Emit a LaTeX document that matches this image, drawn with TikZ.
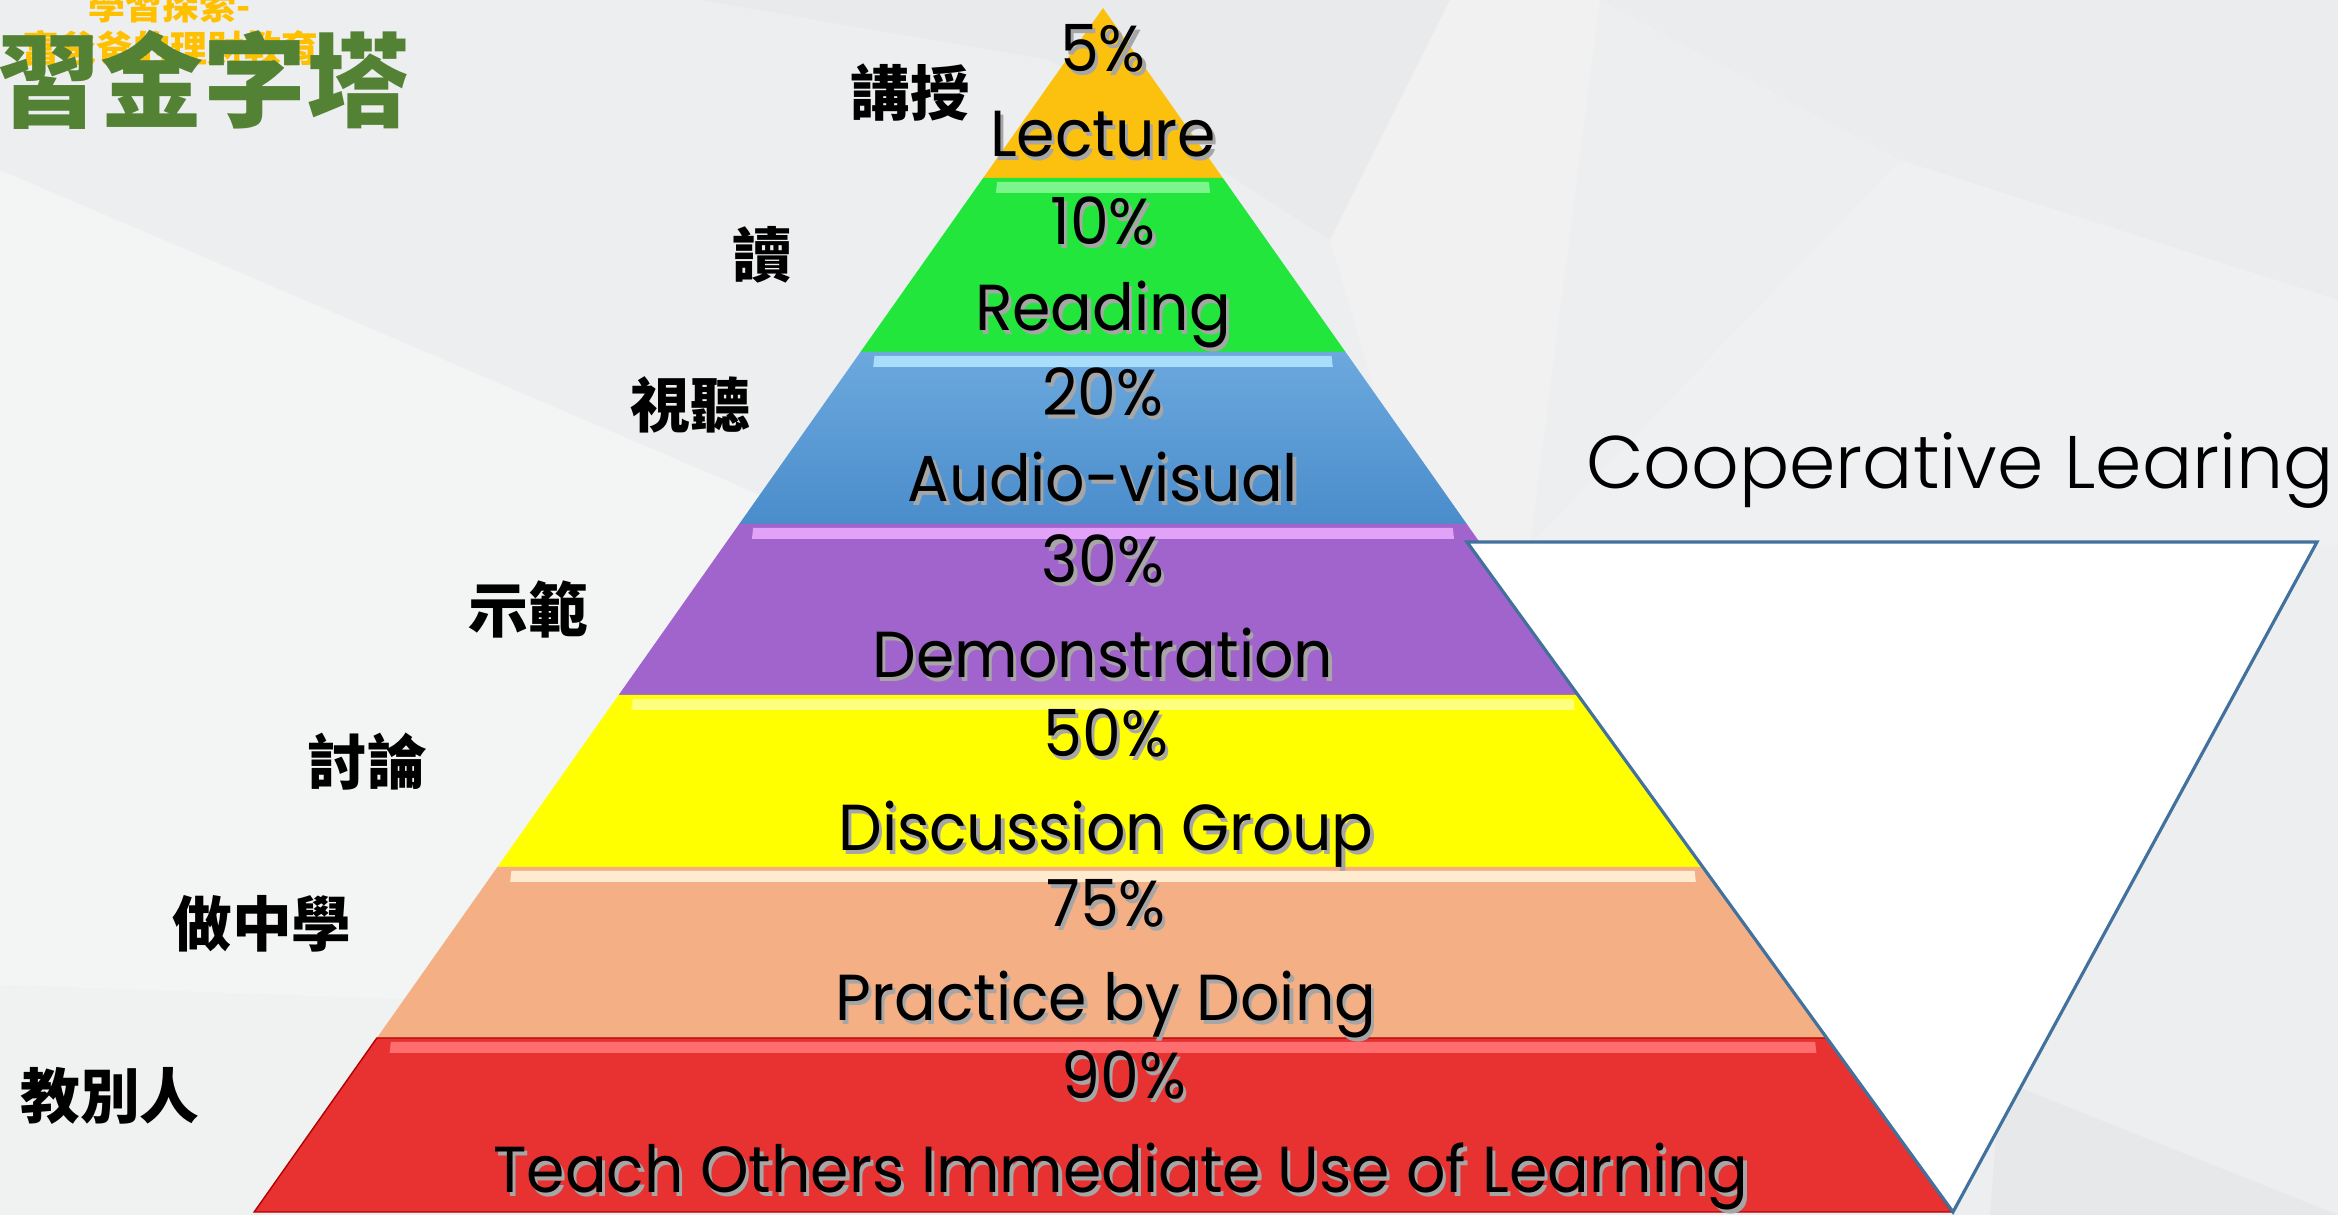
\documentclass[tikz,border=0pt]{standalone}
\usepackage{fontspec}
\setmainfont{Poppins}[FakeStretch=0.95]
\newfontfamily\cjk{Noto Sans CJK TC}
\newfontfamily\coopfont{Poppins Light}
\usetikzlibrary{calc}
\definecolor{bgbase}{HTML}{EDEEEF}
\definecolor{bglight}{HTML}{F3F4F4}
\definecolor{bgdark}{HTML}{E7E8E9}
\definecolor{titlegreen}{HTML}{548235}
\definecolor{titleyellow}{HTML}{FFC000}
\definecolor{cooplinecol}{HTML}{41719C}
\definecolor{lecturecol}{HTML}{FCC10E}
\definecolor{readingcol}{HTML}{22E63C}
\definecolor{audiotop}{HTML}{6CA8DE}
\definecolor{audiobot}{HTML}{4A8DCB}
\definecolor{democol}{HTML}{A064CC}
\definecolor{discol}{HTML}{FFFF00}
\definecolor{practicecol}{HTML}{F4B084}
\definecolor{teachcol}{HTML}{E83131}
\definecolor{readingband}{HTML}{7CF58C}
\definecolor{audioband}{HTML}{A8DEFA}
\definecolor{demoband}{HTML}{E2A2F8}
\definecolor{disband}{HTML}{FFFF80}
\definecolor{practiceband}{HTML}{FFEBCF}
\definecolor{teachband}{HTML}{FF6E6E}
\newcommand\shd[1]{\rlap{\hspace{0.9pt}\raisebox{-0.9pt}{\textcolor{black!35}{#1}}}#1}
\tikzset{
    layertxt/.style = {anchor=base,
                    inner sep=0pt,
                    text=black,
                    font=\fontsize{18.5}{20}\selectfont},
    side/.style =   {anchor=center,
                    inner sep=0pt,
                    text=black,
                    font=\cjk\bfseries\fontsize{17}{18}\selectfont},
    lecturelayer/.style  = {fill=lecturecol},
    readinglayer/.style  = {fill=readingcol},
    audiolayer/.style    = {top color=audiotop, bottom color=audiobot},
    demolayer/.style     = {fill=democol},
    dislayer/.style      = {fill=discol},
    practicelayer/.style = {fill=practicecol},
    teachlayer/.style    = {fill=teachcol, draw=red!70!black, line width=0.4pt},
    coopbox/.style = {fill=white,
                    draw=cooplinecol,
                    line width=0.9pt,
                    line join=miter}
}

\begin{document}
\begin{tikzpicture}[x=0.1mm, y=-0.1mm]
    \useasboundingbox (0,0) rectangle (2338,1215);
    % background facets
    \fill[bgbase] (0,0) rectangle (2338,1215);
    \fill[bglight] (0,170) -- (760,495) -- (420,1000) -- (0,985) -- cycle;
    \fill[bglight!50!bgbase] (0,985) -- (420,1000) -- (250,1215) -- (0,1215) -- cycle;
    \fill[bgdark!60!bgbase] (700,0) -- (1450,0) -- (1330,240) -- (1050,60) -- cycle;
    \fill[bglight!60!bgbase] (1330,240) -- (1450,0) -- (1600,0) -- (1530,545) -- (1420,545) -- cycle;
    \fill[bgdark!40!bgbase] (1600,0) -- (2338,0) -- (2338,300) -- (1900,160) -- cycle;
    \fill[bglight!40!bgbase] (1900,160) -- (2338,300) -- (2338,545) -- (1530,545) -- cycle;
    \fill[bgdark] (2000,1080) -- (2338,1215) -- (1990,1215) -- cycle;

    % pyramid layers
    \foreach \ya/\yb/\lay in {8/178/lecturelayer, 178/352/readinglayer, 352/524/audiolayer,
        524/695/demolayer, 695/867/dislayer, 867/1038/practicelayer, 1038/1212/teachlayer}
        \path[\lay] ({1103-0.705*(\ya-8)},\ya) -- ({1103+0.705*(\ya-8)},\ya)
            -- ({1103+0.705*(\yb-8)},\yb) -- ({1103-0.705*(\yb-8)},\yb) -- cycle;
    % top highlights
    \foreach \ya/\band in {178/readingband, 352/audioband, 524/demoband,
        695/disband, 867/practiceband, 1038/teachband}
        \fill[\band] ({1103-0.705*(\ya-8)+14},\ya+4) -- ({1103+0.705*(\ya-8)-14},\ya+4)
            -- ({1103+0.705*(\ya+8)-24},\ya+15) -- ({1103-0.705*(\ya+8)+24},\ya+15) -- cycle;

    % cooperative learning
    \coordinate (c1) at (1467,542);
    \coordinate (c2) at (2317,542);
    \coordinate (c3) at (1953,1212);
    \draw[coopbox] (c1) -- (c2) -- (c3) -- cycle;
    \node[anchor=base, inner sep=0pt, font=\coopfont\fontsize{21.2}{22}\selectfont] (coop) at (1960,489) {Cooperative Learing};

    % layer texts
    \node[layertxt] (p5)  at (1103,72)   {\shd{5\%}};
    \node[layertxt] (lec) at (1103,157)  {\shd{Lecture}};
    \node[layertxt] (p10) at (1103,245)  {\shd{10\%}};
    \node[layertxt] (rea) at (1103,331)  {\shd{Reading}};
    \node[layertxt] (p20) at (1103,416)  {\shd{20\%}};
    \node[layertxt] (aud) at (1103,502)  {\shd{Audio-visual}};
    \node[layertxt] (p30) at (1103,583)  {\shd{30\%}};
    \node[layertxt] (dem) at (1103,678)  {\shd{Demonstration}};
    \node[layertxt] (p50) at (1106,757)  {\shd{50\%}};
    \node[layertxt] (dis) at (1106,851)  {\shd{Discussion Group}};
    \node[layertxt] (p75) at (1106,927)  {\shd{75\%}};
    \node[layertxt] (pra) at (1106,1021) {\shd{Practice by Doing}};
    \node[layertxt] (p90) at (1124,1099) {\shd{90\%}};
    \node[layertxt] (tea) at (1121,1193) {\shd{Teach Others Immediate Use of Learning}};

    % side labels
    \node[side] (s1) at (910,93)   {講授};
    \node[side] (s2) at (762,255)  {讀};
    \node[side] (s3) at (690,405)  {視聽};
    \node[side] (s4) at (528,610)  {示範};
    \node[side] (s5) at (367,762)  {討論};
    \node[side] (s6) at (262,924)  {做中學};
    \node[side] (s7) at (110,1096) {教別人};

    % title
    \node[anchor=west, inner sep=0pt, text=titleyellow, font=\cjk\bfseries\fontsize{10.5}{11}\selectfont] (sub1) at (88,6) {學習探索-};
    \node[anchor=west, inner sep=0pt, text=titleyellow, font=\cjk\bfseries\fontsize{10.5}{11}\selectfont] (sub2) at (22,48) {富爸爸的理財教育};
    \node[anchor=west, inner sep=0pt, text=titlegreen, font=\cjk\bfseries\fontsize{29.3}{30}\selectfont] (title) at (-3,80) {習金字塔};
\end{tikzpicture}
\end{document}
